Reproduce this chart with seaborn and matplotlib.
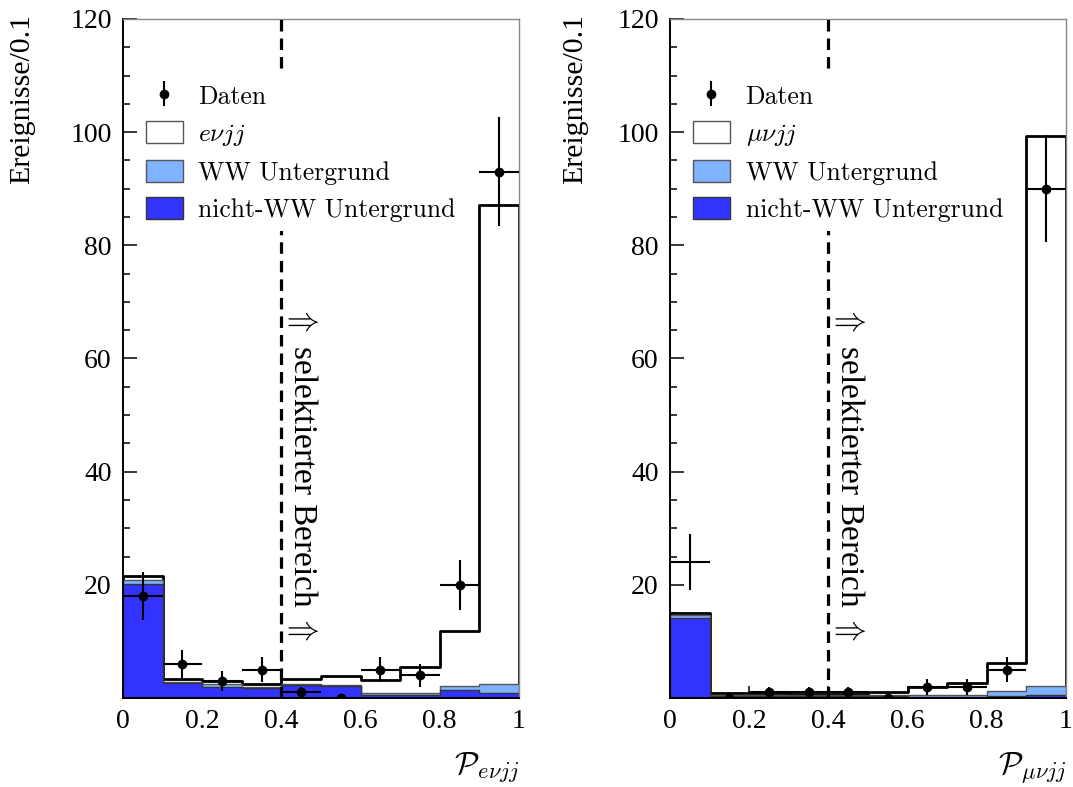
import numpy as np
import matplotlib
matplotlib.use("Agg")
import matplotlib.pyplot as plt
import seaborn as sns
from matplotlib.patches import Patch
from matplotlib.ticker import MultipleLocator, FixedLocator

# ---------------- data ----------------
bin_edges = [0.0, 0.1, 0.2, 0.3, 0.4, 0.5, 0.6, 0.7, 0.8, 0.9, 1.0]
bin_centers = [0.05, 0.15, 0.25, 0.35, 0.45, 0.55, 0.65, 0.75, 0.85, 0.95]

# e nu j j channel
nww_e = [20.2, 2.7, 2.0, 1.7, 2.3, 2.1, 0.6, 0.6, 1.5, 0.9]
ww_e = [0.7, 0.2, 0.5, 0.3, 0.2, 0.2, 0.3, 0.3, 0.7, 1.5]
sig_e = [0.6, 0.5, 0.5, 0.5, 0.9, 1.5, 2.3, 4.6, 9.7, 84.7]
data_e = [18, 6, 3, 5, 1, 0, 5, 4, 20, 93]

# mu nu j j channel
nww_mu = [14.1, 0.4, 0.4, 0.3, 0.3, 0.3, 0.2, 0.2, 0.3, 0.6]
ww_mu = [0.5, 0.2, 0.2, 0.2, 0.2, 0.3, 0.4, 0.4, 0.9, 1.6]
sig_mu = [0.5, 0.2, 0.2, 0.2, 0.2, 0.4, 1.4, 2.1, 5.0, 97.1]
data_mu = [24, 0, 1, 1, 1, 0, 2, 2, 5, 90]

x_ticks = [0, 0.2, 0.4, 0.6, 0.8, 1]
x_ticklabels = ["0", "0.2", "0.4", "0.6", "0.8", "1"]
y_ticks = [20, 40, 60, 80, 100, 120]
y_ticklabels = ["20", "40", "60", "80", "100", "120"]

leg_labels_e = ["Daten", r"$e\nu jj$", "WW Untergrund", "nicht-WW Untergrund"]
leg_labels_mu = ["Daten", r"$\mu\nu jj$", "WW Untergrund", "nicht-WW Untergrund"]
xlabel_e = r"$\mathcal{P}_{e\nu jj}$"
xlabel_mu = r"$\mathcal{P}_{\mu\nu jj}$"
ylabel = "Ereignisse/0.1"
region_text = r"$\Uparrow$ selektierter Bereich $\Uparrow$"
cut_value = 0.4

# ---------------- style ----------------
sns.set_theme(style="ticks")
plt.rcParams["font.family"] = "Liberation Serif"
plt.rcParams["mathtext.fontset"] = "cm"
for k in ["text.color", "axes.labelcolor", "xtick.color", "ytick.color"]:
    plt.rcParams[k] = "black"

DARK = "#3333ff"
LIGHT = "#7fb2ff"

fig = plt.figure(figsize=(10.73, 7.87), dpi=100)
ax1 = fig.add_axes([0.1146, 0.1131, 0.369, 0.8628])
ax2 = fig.add_axes([0.6244, 0.1131, 0.369, 0.8628])


def draw(ax, nww, ww, sig, data, labels, xlabel, hide_first_marker):
    nww = np.asarray(nww, float)
    ww = np.asarray(ww, float)
    sig = np.asarray(sig, float)
    total = nww + ww + sig
    layers = [
        (total, "white", "black", 2.0),
        (nww + ww, LIGHT, "#555555", 1.0),
        (nww, DARK, "#333333", 1.0),
    ]
    for h, fc, ec, lw in layers:
        sns.histplot(x=bin_centers, weights=h, bins=bin_edges, element="step",
                     fill=True, facecolor=fc, edgecolor=ec, linewidth=lw,
                     alpha=1, ax=ax)

    # data points
    x = np.asarray(bin_centers)
    d = np.asarray(data, float)
    err = np.sqrt(d)
    nz = d > 0
    m = nz.copy()
    if hide_first_marker:
        ax.errorbar(x[:1], d[:1], yerr=err[:1], xerr=0.05, fmt="none",
                    ecolor="black", elinewidth=1.5, capsize=0, zorder=5)
        m[0] = False
    ax.errorbar(x[m], d[m], yerr=err[m], xerr=0.05, fmt="o", color="black",
                ms=6, elinewidth=1.5, capsize=0, zorder=5)
    ax.plot(x[~nz], d[~nz], "o", color="black", ms=6, zorder=5)

    # cut line and text
    ax.axvline(cut_value, color="black", lw=2.3, dashes=(3.6, 2.2), zorder=3)
    ax.text(0.455, 39.8, region_text, rotation=-90, ha="center", va="center",
            fontsize=24, zorder=4)

    # legend
    eb = ax.errorbar([-5], [-5], yerr=[1], fmt="o", color="black", ms=6,
                     elinewidth=1.5, capsize=0)
    handles = [
        eb,
        Patch(facecolor="white", edgecolor="#555555", linewidth=1.0),
        Patch(facecolor=LIGHT, edgecolor="#555555", linewidth=1.0),
        Patch(facecolor=DARK, edgecolor="#333333", linewidth=1.0),
    ]
    leg = ax.legend(handles, labels, loc="upper left",
                    bbox_to_anchor=(0.035, 0.918), frameon=True, framealpha=1,
                    fancybox=False, edgecolor="none", facecolor="white",
                    prop={"family": "cmr10", "size": 18.5},
                    handlelength=1.45, handleheight=0.95, handletextpad=0.6,
                    labelspacing=0.47, borderpad=0.35, borderaxespad=0)
    leg.set_zorder(10)

    ax.set_xlim(0, 1)
    ax.set_ylim(0, 120)
    ax.xaxis.set_major_locator(FixedLocator(x_ticks))
    ax.set_xticklabels(x_ticklabels)
    ax.xaxis.set_minor_locator(MultipleLocator(0.05))
    ax.yaxis.set_major_locator(FixedLocator(y_ticks))
    ax.set_yticklabels(y_ticklabels)
    ax.yaxis.set_minor_locator(MultipleLocator(5))
    ax.tick_params(which="both", direction="in", width=1.1, labelsize=20,
                   top=False, right=False, color="black", labelcolor="black")
    ax.tick_params(axis="y", which="major", length=10, pad=8)
    ax.tick_params(axis="y", which="minor", length=5)
    ax.tick_params(axis="x", which="major", length=9, pad=8)
    ax.tick_params(axis="x", which="minor", length=4.5)
    ax.set_xlabel("")
    ax.set_ylabel("")
    for s in ["left", "bottom"]:
        ax.spines[s].set_color("black")
        ax.spines[s].set_linewidth(1.4)
    for s in ["top", "right"]:
        ax.spines[s].set_color("#888888")
        ax.spines[s].set_linewidth(1.0)
        ax.spines[s].set_visible(True)
    ax.text(1.0, -0.103, xlabel, transform=ax.transAxes, ha="right",
            va="center", fontsize=23)
    ax.set_facecolor("white")


draw(ax1, nww_e, ww_e, sig_e, data_e, leg_labels_e, xlabel_e, False)
draw(ax2, nww_mu, ww_mu, sig_mu, data_mu, leg_labels_mu, xlabel_mu, True)

fig.text(22 / 1073, 1 - 14 / 787, ylabel, rotation=90, ha="center", va="top",
         fontsize=21.5)
fig.text(575 / 1073, 1 - 14 / 787, ylabel, rotation=90, ha="center", va="top",
         fontsize=21.5)

fig.savefig("out.png", dpi=100, facecolor="white")
